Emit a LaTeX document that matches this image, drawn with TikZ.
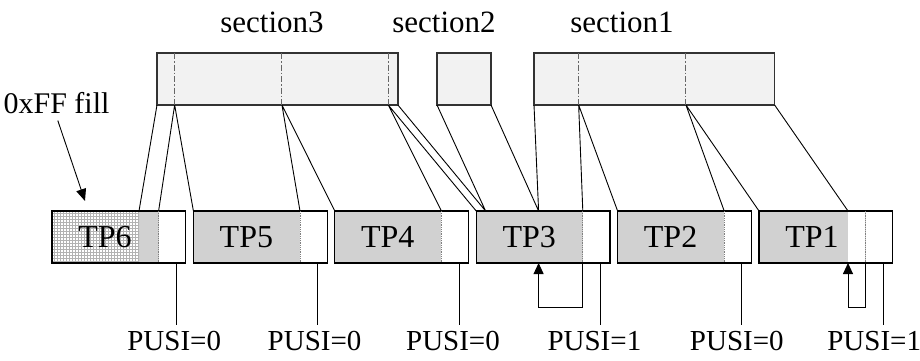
\documentclass[tikz,border=0pt]{standalone}
\usepackage{fontspec}
\setmainfont{Liberation Serif}
\usetikzlibrary{positioning,shapes.multipart,patterns,arrows.meta}
\definecolor{tpgray}{gray}{0.82}
\definecolor{secgray}{gray}{0.95}

\begin{document}
\begin{tikzpicture}[
  x=1pt,y=1pt,
  every node/.style={scale=1.0},
  tpbox/.style={rectangle split,rectangle split parts=2,rectangle split horizontal,rectangle split draw splits=false,rectangle split part fill={tpgray,white},draw,line width=1.2pt,inner sep=0pt,outer sep=0pt,text width=106pt,align=center,minimum height=52pt,font=\fontsize{32}{36}\selectfont},
  secbox/.style={rectangle split,rectangle split parts=#1,rectangle split horizontal,rectangle split draw splits=false,draw=black!80,fill=secgray,line width=1.3pt,inner sep=0pt,outer sep=0pt,minimum height=52pt,anchor=north west},
  split/.style={densely dotted,line width=0.8pt,gray},
  secsplit/.style={dash pattern=on 6pt off 2pt on 1.5pt off 2pt,line width=1pt,black!60},
  link/.style={line width=0.9pt},
  ptr/.style={line width=0.9pt,-{Triangle[length=11pt,width=10pt]}},
  pusi/.style={anchor=north,yshift=-6pt,inner sep=0pt,font=\fontsize{29}{33}\selectfont},
  title/.style={anchor=base,font=\fontsize{31}{35}\selectfont},
]
\useasboundingbox (0,0) rectangle (920,360);

\node[title] (t3) at (272,328) {section3};
\node[title] (t2) at (444,328) {section2};
\node[title] (t1) at (622,328) {section1};

\node (sec3) [secbox=4] at (157,307) {
\nodepart[text width=17pt]{one}
\nodepart[text width=106pt]{two}
\nodepart[text width=105pt]{three}
\nodepart[text width=9pt]{four}
};
\node (sec2) [secbox=1] at (437,307) {\nodepart[text width=54pt]{one}};
\node (sec1) [secbox=3] at (534,307) {
\nodepart[text width=44pt]{one}
\nodepart[text width=106pt]{two}
\nodepart[text width=88pt]{three}
};
\draw[secsplit] (sec3.one split north) -- (sec3.one split south)
  (sec3.two split north) -- (sec3.two split south)
  (sec3.three split north) -- (sec3.three split south)
  (sec1.one split north) -- (sec1.one split south)
  (sec1.two split north) -- (sec1.two split south);

\node (tp6) [tpbox,anchor=north west,path picture={
  \fill[white] (path picture bounding box.north west) rectangle ([xshift=87pt]path picture bounding box.south west);
  \fill[pattern=grid,pattern color=gray!60] (path picture bounding box.north west) rectangle ([xshift=87pt]path picture bounding box.south west);
}] at (52,149) {TP6\nodepart[text width=26.5pt]{two}};
\node (tp5) [tpbox,right=7.7pt of tp6] {TP5\nodepart[text width=26.5pt]{two}};
\node (tp4) [tpbox,right=7.7pt of tp5] {TP4\nodepart[text width=26.5pt]{two}};
\node (tp3) [tpbox,right=7.7pt of tp4] {TP3\nodepart[text width=26.5pt]{two}};
\node (tp2) [tpbox,right=7.7pt of tp3] {TP2\nodepart[text width=26.5pt]{two}};
\node (tp1) [tpbox,right=7.7pt of tp2,path picture={
  \fill[white] ([xshift=89pt]path picture bounding box.north west) rectangle ([xshift=106pt]path picture bounding box.south west);
}] {TP1\nodepart[text width=26.5pt]{two}};
\foreach \n in {1,...,6}
  \draw[split] (tp\n.one split north) -- (tp\n.one split south);

\coordinate (tp6hatch) at ([xshift=87pt]tp6.north west);
\coordinate (tp3a) at ([xshift=9.4pt]tp3.north west);
\coordinate (tp3b) at ([xshift=62.4pt]tp3.north west);
\coordinate (tp1a) at ([xshift=89pt]tp1.north west);
\coordinate (tp3ptr) at ([xshift=62.4pt]tp3.south west);
\coordinate (tp1ptr) at ([xshift=89pt]tp1.south west);
\coordinate (fillend) at ([xshift=33pt,yshift=10pt]tp6.north west);

\draw[link] (sec3.south west) -- (tp6hatch)
  (sec3.one split south) -- (tp6.one split north)
  (sec3.one split south) -- (tp5.north west)
  (sec3.two split south) -- (tp5.one split north)
  (sec3.two split south) -- (tp4.north west)
  (sec3.three split south) -- (tp4.one split north)
  (sec3.three split south) -- (tp3.north west)
  (sec3.south east) -- (tp3a)
  (sec2.south west) -- (tp3a)
  (sec2.south east) -- (tp3b)
  (sec1.south west) -- (tp3b)
  (sec1.one split south) -- (tp3.one split north)
  (sec1.one split south) -- (tp2.north west)
  (sec1.two split south) -- (tp2.one split north)
  (sec1.two split south) -- (tp1.north west)
  (sec1.south east) -- (tp1a);

\draw[ptr] (tp3.one split south) -- ++(0,-44) -| (tp3ptr);
\draw[ptr] (tp1.one split south) -- ++(0,-44) -| (tp1ptr);

\foreach \n/\v/\d in {6/0/2,5/0/3,4/0/6,3/1/6,2/0/5,1/1/9}
  \draw[link] ([xshift=-9.5pt]tp\n.south east) -- ++(0,-62) node[pusi,xshift=-\d pt] (pusi\n) {PUSI=\v};

\node (ff) [anchor=base east,font=\fontsize{30}{34}\selectfont] at (113,247) {0xFF fill};
\draw[link,-{Triangle[length=12pt,width=10pt]},shorten <=4pt] (ff.south) -- (fillend);
\end{tikzpicture}
\end{document}
